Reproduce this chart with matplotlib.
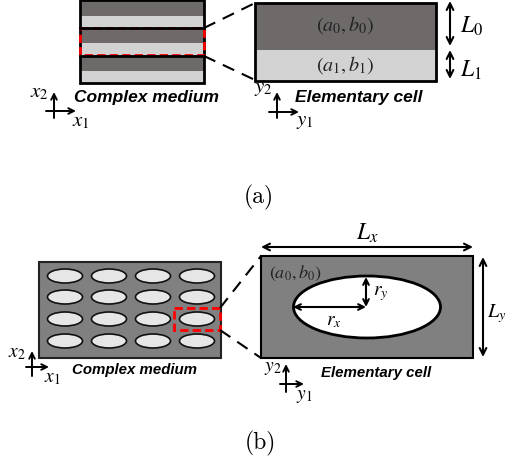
import matplotlib
matplotlib.use("Agg")
import matplotlib.pyplot as plt
from matplotlib.patches import Rectangle, Ellipse, FancyArrowPatch

plt.rcParams['mathtext.fontset'] = 'stix'

# panel (a): layered medium
layer_colors = ['#6e6a6a', '#d2d2d2']
layer_labels = [r'$(a_0,b_0)$', r'$(a_1,b_1)$']
length_labels = [r'$L_0$', r'$L_1$']
n_periods = 3

# panel (b): matrix with elliptic inclusions
grid_rows = 4
grid_cols = 4
matrix_color = '#808080'
inclusion_color = '#e6e6e6'
cell_labels_b = [r'$(a_0,b_0)$', r'$r_x$', r'$r_y$', r'$L_x$', r'$L_y$']

titles = ['Complex medium', 'Elementary cell']
panel_tags = ['(a)', '(b)']

fig = plt.figure(figsize=(5.07, 4.65), dpi=100)
ax = fig.add_axes([0, 0, 1, 1])
ax.set_xlim(0, 507)
ax.set_ylim(465, 0)
ax.axis('off')

bold = dict(family='Liberation Sans', weight='bold', style='italic')


def darrow(x0, y0, x1, y1, style='<->', lw=1.5, ms=12):
    ax.add_patch(FancyArrowPatch((x0, y0), (x1, y1), arrowstyle=style,
                                 mutation_scale=ms, color='black', lw=lw,
                                 shrinkA=0, shrinkB=0))


def frame(lab1, lab2, v, h, l1, l2, tag_fs=15):
    # little coordinate cross
    darrow(v[0], v[2], v[0], v[1], style='->', lw=1.4, ms=10)
    darrow(h[1], h[0], h[2], h[0], style='->', lw=1.4, ms=10)
    ax.text(l1[0], l1[1], lab1, fontsize=tag_fs, ha='center', va='center')
    ax.text(l2[0], l2[1], lab2, fontsize=tag_fs, ha='center', va='center')


# ---------- (a) ----------
top, dark_h, light_h = 0.5, 15.5, 12.0
y = top
for i in range(n_periods):
    ax.add_patch(Rectangle((80, y), 124, dark_h, fc=layer_colors[0], ec='none'))
    ax.add_patch(Rectangle((80, y + dark_h), 124, light_h, fc=layer_colors[1], ec='none'))
    y += dark_h + light_h
ax.add_patch(Rectangle((80, top), 124, y - top, fc='none', ec='black', lw=2))
ax.plot([80, 204], [28, 28], color='black', lw=2)
ax.plot([80, 204], [56, 56], color='black', lw=2)
ax.add_patch(Rectangle((80, 28), 124, 27.5, fc='none', ec='red', lw=2, ls=(0, (3, 1.5))))
ax.plot([204, 255], [28, 3], color='black', lw=1.5, ls=(0, (6, 4)))
ax.plot([204, 255], [56, 80], color='black', lw=1.5, ls=(0, (6, 4)))

ax.add_patch(Rectangle((255, 3), 181, 47, fc=layer_colors[0], ec='none'))
ax.add_patch(Rectangle((255, 50), 181, 31, fc=layer_colors[1], ec='none'))
ax.add_patch(Rectangle((255, 3), 181, 78, fc='none', ec='black', lw=2))
ax.text(345, 25, layer_labels[0], fontsize=14.5, ha='center', va='center', color='#222222')
ax.text(345, 65, layer_labels[1], fontsize=14.5, ha='center', va='center', color='#222222')

darrow(450, 1, 450, 46)
darrow(450, 50, 450, 79)
ax.text(460, 26, length_labels[0], fontsize=17, ha='left', va='center')
ax.text(460, 70, length_labels[1], fontsize=17, ha='left', va='center')

ax.text(146, 97, titles[0], fontsize=12.5, ha='center', va='center', **bold)
ax.text(359, 97, titles[1], fontsize=12.5, ha='center', va='center', **bold)

frame(r'$x_2$', r'$x_1$', (54, 92, 118), (111, 46, 76), (39, 92), (81, 121))
frame(r'$y_2$', r'$y_1$', (277, 92, 118), (112, 269, 299), (263, 88), (305, 121))

ax.text(259, 197, panel_tags[0], fontsize=17, family='cmr10', ha='center', va='center')

# ---------- (b) ----------
ax.add_patch(Rectangle((39, 262), 182, 96, fc=matrix_color, ec='#222222', lw=1.5))
xs = [65, 109, 153, 197]
ys = [276, 297, 319, 341]
for r in range(grid_rows):
    for c in range(grid_cols):
        ax.add_patch(Ellipse((xs[c], ys[r]), 35, 14, fc=inclusion_color, ec='#111111', lw=1.2))
ax.add_patch(Rectangle((174, 308), 46, 22, fc='none', ec='red', lw=2, ls=(0, (3, 1.5))))
ax.plot([220, 261], [308, 256], color='black', lw=1.5, ls=(0, (6, 4)))
ax.plot([220, 261], [330, 358], color='black', lw=1.5, ls=(0, (6, 4)))

ax.add_patch(Rectangle((261, 256), 212, 102, fc=matrix_color, ec='black', lw=1.5))
ax.add_patch(Ellipse((367, 307), 147, 62, fc='white', ec='black', lw=2))
ax.text(295, 273, cell_labels_b[0], fontsize=13, ha='center', va='center', color='#222222')
darrow(293, 307, 366, 307, ms=10)
darrow(366, 277, 366, 307, ms=10)
ax.text(334, 320, cell_labels_b[1], fontsize=14, ha='center', va='center')
ax.text(381, 293, cell_labels_b[2], fontsize=14, ha='center', va='center')
darrow(261, 247, 473, 247)
darrow(483, 257, 483, 357)
ax.text(367, 233, cell_labels_b[3], fontsize=17, ha='center', va='center')
ax.text(487, 314, cell_labels_b[4], fontsize=14.5, ha='left', va='center')

ax.text(135, 370, titles[0], fontsize=10.8, ha='center', va='center', **bold)
ax.text(376, 373, titles[1], fontsize=10.8, ha='center', va='center', **bold)

frame(r'$x_2$', r'$x_1$', (32, 351, 376), (367, 26, 49), (17, 352), (52, 377), tag_fs=14)
frame(r'$y_2$', r'$y_1$', (286, 364, 392), (384, 280, 304), (273, 367), (304, 395), tag_fs=14)

ax.text(260, 443, panel_tags[1], fontsize=17, family='cmr10', ha='center', va='center')

fig.savefig('out.png', dpi=100)
